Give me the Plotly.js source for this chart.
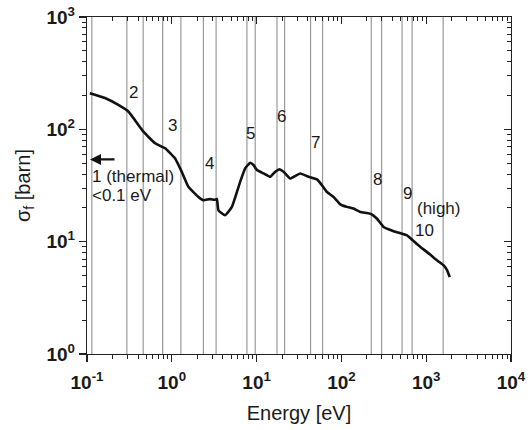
<!DOCTYPE html>
<html>
<head>
<meta charset="utf-8">
<script src="https://cdn.plot.ly/plotly-3.0.1.min.js"></script>
<style>html,body{margin:0;padding:0;background:#fff;}#chart{width:532px;height:430px;}</style>
</head>
<body>
<div id="chart"></div>
<script>
// Fission cross section vs energy
const energy = [0.108, 0.163, 0.234, 0.307, 0.463, 0.635, 0.834, 1.09, 1.31, 1.57, 2.06, 2.36, 2.8, 3.24, 3.4, 3.55, 4.26, 5.11, 6.40, 7.33, 8.40, 9.19, 10.1, 12.1, 14.5, 16.6, 18.6, 20.8, 24.9, 32.7, 41.0, 51.5, 59, 67.6, 80.9, 97.1, 116, 139, 167, 200, 225, 263, 315, 413, 496, 595, 682, 855, 1026, 1346, 1611, 1766, 1897];
const sigma  = [210, 190, 165, 144, 95.3, 75.1, 67.8, 55.2, 41.9, 30.8, 25.0, 23.4, 23.9, 23.6, 24.0, 19.0, 17.2, 20.4, 34.1, 44.9, 50.4, 48.1, 43.4, 40.5, 37.8, 41.9, 44.0, 41.9, 36.5, 40.5, 37.8, 35.8, 31.8, 27.7, 25.0, 21.5, 20.4, 19.7, 18.4, 18.0, 17.6, 16.0, 13.5, 12.4, 11.9, 11.4, 10.4, 8.95, 8.07, 6.80, 6.14, 5.55, 4.83];

// Group boundary energies (vertical lines), eV
const boundaries = [0.114, 0.295, 0.46, 0.78, 1.28, 2.36, 3.33, 7.69, 9.63, 17.4, 21.4, 43.3, 60, 225, 298, 519, 682, 1585];

// Group labels
const groupLabels = ["2", "3", "4", "5", "6", "7", "8", "9", "(high)", "10"];
const labelEnergy = [0.349, 1.03, 2.76, 8.56, 19.4, 49.5, 263, 594, 1383, 959];
const labelSigma  = [211, 109, 50, 91, 130, 76, 36, 26.9, 19.7, 12.6];

const thermalLines = ["1 (thermal)", "<0.1 eV"];
const thermalSigma = [38.4, 25.9];
const arrowEnergy = 0.1085, arrowSigma = 54;

const xTickVals = [0.1, 1, 10, 100, 1000, 10000];
const xTickText = ["10<sup>-1</sup>", "10<sup>0</sup>", "10<sup>1</sup>", "10<sup>2</sup>", "10<sup>3</sup>", "10<sup>4</sup>"];
const yTickVals = [1, 10, 100, 1000];
const yTickText = ["10<sup>0</sup>", "10<sup>1</sup>", "10<sup>2</sup>", "10<sup>3</sup>"];

function minorVals(lo, hi) {
  const v = [];
  for (let d = lo; d < hi; d++) for (let m = 2; m <= 9; m++) v.push(m * Math.pow(10, d));
  return v;
}
const xMinor = minorVals(-1, 4);
const yMinor = minorVals(0, 3);
const bold = a => a.map(t => "<b>" + t + "</b>");

const font = {family: "Arial, 'Liberation Sans', sans-serif", color: "#1a1a1a"};

const traces = [
  {x: energy, y: sigma, type: "scatter", mode: "lines", line: {color: "#111", width: 2.6, shape: "spline", smoothing: 0.4}, showlegend: false, hoverinfo: "skip"},
  {x: [], y: [], xaxis: "x2", yaxis: "y2", type: "scatter", showlegend: false}
];

const shapes = boundaries.map(e => ({type: "line", xref: "x", yref: "paper", x0: e, x1: e, y0: 0, y1: 1, line: {color: "#9a9a9a", width: 1.2}, layer: "below"}));

const annotations = groupLabels.map((t, i) => ({
  text: t, x: Math.log10(labelEnergy[i]), y: Math.log10(labelSigma[i]), xref: "x", yref: "y",
  showarrow: false, xanchor: "center", yanchor: "middle", font: Object.assign({size: 17}, font)
}));
thermalLines.forEach((t, i) => annotations.push({
  text: t, x: Math.log10(0.114), y: Math.log10(thermalSigma[i]), xref: "x", yref: "y",
  showarrow: false, xanchor: "left", yanchor: "middle", xshift: -2, font: Object.assign({size: 17}, font)
}));
annotations.push({
  text: "", x: Math.log10(arrowEnergy), y: Math.log10(arrowSigma), xref: "x", yref: "y",
  showarrow: true, arrowhead: 2, arrowsize: 1, arrowwidth: 2.2, arrowcolor: "#111", ax: 26, ay: 0
});

const axisCommon = {
  type: "log", showgrid: false, zeroline: false, showline: true, linecolor: "#222", linewidth: 1.2,
  tickcolor: "#222", tickwidth: 1.2, ticklen: 7
};

const layout = {
  width: 532, height: 430,
  margin: {l: 87, r: 21, t: 17, b: 76},
  paper_bgcolor: "#fff", plot_bgcolor: "#fff",
  font: font,
  showlegend: false,
  xaxis: Object.assign({}, axisCommon, {
    range: [-1, 4], ticks: "outside", tickvals: xTickVals, ticktext: bold(xTickText),
    tickfont: Object.assign({size: 19}, font), ticklabelstandoff: 4,
    minor: {tickvals: xMinor, ticks: "outside", ticklen: 4, tickcolor: "#222", tickwidth: 1, showgrid: false},
    title: {text: "Energy [eV]", font: Object.assign({size: 20}, font), standoff: 14}
  }),
  yaxis: Object.assign({}, axisCommon, {
    range: [0, 3], ticks: "outside", tickvals: yTickVals, ticktext: bold(yTickText),
    tickfont: Object.assign({size: 19}, font),
    minor: {tickvals: yMinor, ticks: "outside", ticklen: 4, tickcolor: "#222", tickwidth: 1, showgrid: false},
    title: {text: "σ<sub>f</sub> [barn]", font: Object.assign({size: 20}, font), standoff: 10}
  }),
  xaxis2: Object.assign({}, axisCommon, {
    range: [-1, 4], overlaying: "x", side: "top", anchor: "y2", ticks: "inside", tickvals: xTickVals,
    showticklabels: false,
    minor: {tickvals: xMinor, ticks: "inside", ticklen: 4, tickcolor: "#222", tickwidth: 1, showgrid: false}
  }),
  yaxis2: Object.assign({}, axisCommon, {
    range: [0, 3], overlaying: "y", side: "right", anchor: "x2", ticks: "inside", tickvals: yTickVals,
    showticklabels: false,
    minor: {tickvals: yMinor, ticks: "inside", ticklen: 4, tickcolor: "#222", tickwidth: 1, showgrid: false}
  }),
  shapes: shapes,
  annotations: annotations
};

Plotly.newPlot("chart", traces, layout, {staticPlot: true, displayModeBar: false});
</script>
</body>
</html>
